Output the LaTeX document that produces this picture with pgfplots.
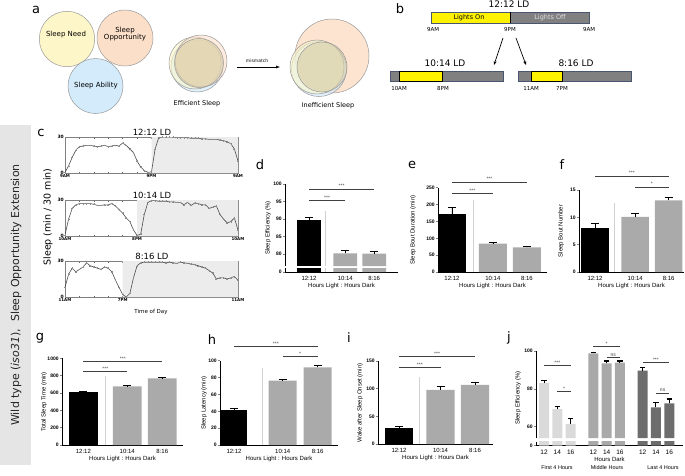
\documentclass[border=0pt]{standalone}
\usepackage{pgfplots}
\pgfplotsset{compat=1.18}
\usepackage{fontspec}
\setmainfont{DejaVu Sans}
\newfontfamily\arial{Liberation Sans}
\usetikzlibrary{arrows.meta}

\definecolor{barg}{HTML}{AAAAAA}
\definecolor{jlight}{HTML}{DADADA}
\definecolor{jmid}{HTML}{A9A9A9}
\definecolor{jdark}{HTML}{6D6D6D}
\definecolor{shade}{HTML}{ECECEC}
\definecolor{cneed}{HTML}{FDF6C8}
\definecolor{copp}{HTML}{FBDFC9}
\definecolor{cabil}{HTML}{D3EBFB}
\definecolor{cmix}{HTML}{D8CDA6}
\definecolor{lborder}{HTML}{4A5670}

\newcommand\af{\arial\fontsize{6}{7}\selectfont}

\pgfplotsset{
  gp/.style={
    scale only axis, anchor=south west,
    axis x line*=bottom, axis y line*=left,
    axis line style={line width=0.7pt},
    tick align=outside, major tick length=2.2pt,
    ytick style={line width=0.6pt},
    xtick style={draw=none},
    yticklabel style={font=\arial\fontsize{5}{6}\selectfont\bfseries, inner sep=1pt},
    xticklabel style={font=\af, inner sep=1.5pt},
    xlabel style={font=\af, inner sep=1pt},
    /pgf/number format/assume math mode=true,
    /pgf/number format/1000 sep={},
    clip mode=individual, scaled y ticks=false,
    xtick={0,1.2,2.2}, xticklabels={12:12,10:14,8:16},
    xlabel={Hours Light : Hours Dark},
  },
  bar/.style={ybar, bar width=0.82, bar shift=0pt, draw=none, fill=#1},
  eb/.style={error bars/.cd, y dir=plus, y explicit,
    error bar style={line width=0.6pt, black},
    error mark options={rotate=90, line width=0.6pt, black, mark size=4pt}},
  ebj/.style={error bars/.cd, y dir=plus, y explicit,
    error bar style={line width=1pt, black},
    error mark options={rotate=90, line width=1.2pt, black, mark size=2.6pt}},
  cax/.style={
    scale only axis, anchor=south west, width=173pt, height=36pt,
    xmin=0, xmax=24, ymin=0, ymax=30,
    axis line style={draw=black!50, line width=0.5pt},
    ytick={0,30}, tick align=inside,
    major tick length=1.5pt, minor tick length=1.5pt,
    tick style={black!60, line width=0.4pt},
    minor xtick={2,4,6,8,10,14,16,18,20,22},
    yticklabel style={font=\fontsize{4.5}{5}\selectfont\bfseries, inner sep=1pt},
    xticklabel style={font=\fontsize{4}{5}\selectfont\bfseries, inner sep=1.5pt},
    /pgf/number format/assume math mode=true,
  },
  curve/.style={black!70, line width=0.6pt, mark=+, mark size=0.9pt,
    mark options={black!45, line width=0.3pt}},
}
\tikzset{
  sig/.style={black!75, line width=0.6pt},
  sigt/.style={font=\arial\fontsize{5}{5}\selectfont, inner sep=0.8pt, text=black!75},
  sepc/.style={black!18, line width=0.8pt},
  yl/.style={font=\af, rotate=90},
  pl/.style={font=\fontsize{13}{13}\selectfont},
}

\begin{document}
\begin{tikzpicture}[x=1pt,y=1pt]
\useasboundingbox (0,0) rectangle (685,-475);

% left strip
\fill[black!10] (0,-125) rectangle (31,-465);
\node[rotate=90, font=\fontsize{11}{11}\selectfont, text=black!85] at (16,-295)
  {Wild type (\textit{iso31}),\ \ Sleep Opportunity Extension};

% panel letters
\node[pl] at (36,-10) {a};
\node[pl] at (400,-9) {b};
\node[pl] at (41,-133) {c};
\node[pl] at (260,-165) {d};
\node[pl] at (412,-165) {e};
\node[pl] at (562,-165) {f};
\node[pl] at (40,-338) {g};
\node[pl] at (212,-340) {h};
\node[pl] at (349,-338) {i};
\node[pl] at (509,-338) {j};

% ---------- panel a
\begin{scope}[draw=black!40, line width=0.5pt]
\filldraw[fill=cneed] (67,-39) circle (27.7);
\filldraw[fill=copp] (125,-38) circle (28);
\filldraw[fill=cabil] (95.5,-86) circle (27.5);
\node[font=\fontsize{7}{8}\selectfont] at (66,-35) {Sleep Need};
\node[font=\fontsize{7}{8}\selectfont, align=center] at (125,-34) {Sleep\\[-1pt]Opportunity};
\node[font=\fontsize{7}{8}\selectfont] at (96,-86) {Sleep Ability};
% efficient
\filldraw[fill=cabil, fill opacity=0.7] (197,-66) circle (26);
\filldraw[fill=cneed, fill opacity=0.6] (195,-63) circle (26);
\filldraw[fill=copp, fill opacity=0.6] (201,-61) circle (26);
\filldraw[fill=cmix, fill opacity=0.6] (199,-63) circle (24.5);
\node[font=\fontsize{6.5}{7}\selectfont] at (197,-104) {Efficient Sleep};
\draw[-{Latex[length=4pt]}, black, line width=0.5pt] (237,-67) -- (280,-67);
\node[font=\fontsize{4.5}{5}\selectfont] at (257,-61) {mismatch};
% inefficient
\filldraw[fill=copp, fill opacity=0.85] (332,-56) circle (37);
\filldraw[fill=cabil, fill opacity=0.7] (319,-69) circle (27.5);
\filldraw[fill=cneed, fill opacity=0.6] (317,-67) circle (27);
\filldraw[fill=cmix, fill opacity=0.6] (322,-67) circle (25);
\node[font=\fontsize{6.5}{7}\selectfont] at (328,-106) {Inefficient Sleep};
\end{scope}

% ---------- panel b
\begin{scope}[line width=0.6pt]
\fill[black!50] (431,-12) rectangle (589,-23);
\fill[yellow] (431,-12) rectangle (510,-23);
\draw[lborder] (431,-12) rectangle (589,-23);
\draw[black] (510,-12) -- (510,-23);
\node[font=\fontsize{6.5}{7}\selectfont] at (469,-17.5) {Lights On};
\node[font=\fontsize{6.5}{7}\selectfont, text=black!12] at (550,-17.5) {Lights Off};
\node[font=\fontsize{9}{9}\selectfont] at (509,-4) {12:12 LD};
\node[font=\fontsize{5.5}{6}\selectfont] at (433,-29) {9AM};
\node[font=\fontsize{5.5}{6}\selectfont] at (510,-29) {9PM};
\node[font=\fontsize{5.5}{6}\selectfont] at (589,-29) {9AM};
\draw[-{Stealth[length=4pt]}, line width=0.7pt] (503,-38) -- (494,-65);
\draw[-{Stealth[length=4pt]}, line width=0.7pt] (516,-38) -- (526,-65);
\node[font=\fontsize{9}{9}\selectfont] at (445,-63) {10:14 LD};
\node[font=\fontsize{9}{9}\selectfont] at (576,-63) {8:16 LD};
\fill[black!50] (390,-71) rectangle (503,-81);
\fill[yellow] (399,-71) rectangle (442,-81);
\draw[lborder] (390,-71) rectangle (503,-81);
\draw[black] (399,-71) rectangle (442,-81);
\node[font=\fontsize{5.5}{6}\selectfont] at (399,-88) {10AM};
\node[font=\fontsize{5.5}{6}\selectfont] at (443,-88) {8PM};
\fill[black!50] (518,-71) rectangle (631,-81);
\fill[yellow] (531,-71) rectangle (562,-81);
\draw[lborder] (518,-71) rectangle (631,-81);
\draw[black] (531,-71) rectangle (562,-81);
\node[font=\fontsize{5.5}{6}\selectfont] at (531,-88) {11AM};
\node[font=\fontsize{5.5}{6}\selectfont] at (562,-88) {7PM};
\end{scope}

% ---------- panel c
\node[font=\fontsize{8.5}{9}\selectfont] at (152,-132) {12:12 LD};
\node[font=\fontsize{8.5}{9}\selectfont] at (152,-195) {10:14 LD};
\node[font=\fontsize{8.5}{9}\selectfont] at (152,-256) {8:16 LD};
\node[rotate=90, font=\fontsize{9.5}{10}\selectfont] at (48,-217) {Sleep (min / 30 min)};
\node[font=\fontsize{5.5}{6}\selectfont] at (151,-312) {Time of Day};

\begin{axis}[cax, at={(65pt,-173pt)}, xtick={0,12,24}, xticklabels={9AM,9PM,9AM}]
\addplot[fill=shade, draw=none] coordinates {(12,0) (12,30) (24,30) (24,0)} \closedcycle;
\addplot[curve] coordinates {(0,0.5)(0.5,6)(1,13)(1.5,19)(2,22)(2.5,22.5)(3,23)(3.5,23)(4,22.5)(4.5,22)(5,22.5)(5.5,23)(6,22)(6.5,22.5)(7,23)(7.5,22.5)(8,25)(8.5,23)(9,20)(9.5,17)(10,10)(10.5,5)(11,2)(11.5,0.5)(12,1)(12.5,20)(13,29.5)(13.5,30)(14,30)(14.5,30)(15,30)(15.5,29.5)(16,29.5)(16.5,29.5)(17,29.5)(17.5,29)(18,29)(18.5,29)(19,28.5)(19.5,28.5)(20,28)(20.5,28)(21,28)(21.5,27.5)(22,27)(22.5,26)(23,24.5)(23.5,20)(24,10)};
\end{axis}

\begin{axis}[cax, at={(65pt,-236pt)}, xtick={0,10,24}, xticklabels={10AM,8PM,10AM}]
\addplot[fill=shade, draw=none] coordinates {(10,0) (10,30) (24,30) (24,0)} \closedcycle;
\addplot[curve] coordinates {(0,1)(0.5,14)(1,23)(1.5,26)(2,27)(2.5,27)(3,27)(3.5,27)(4,26.5)(4.5,25.5)(5,25.5)(5.5,26)(6,26)(6.5,27)(7,25)(7.5,22)(8,19)(8.5,15)(9,12)(9.5,5)(10,0.5)(10.5,1.5)(11,18)(11.5,28)(12,29.5)(12.5,29.5)(13,29)(13.5,29)(14,29)(14.5,28.5)(15,28.5)(15.5,28)(16,28)(16.5,26)(17,28)(17.5,25.5)(18,27.5)(18.5,27)(19,26)(19.5,26)(20,23)(20.5,24)(21,25)(21.5,18)(22,14)(22.5,11)(23,12)(23.5,15)(24,5)};
\end{axis}

\begin{axis}[cax, at={(65pt,-297pt)}, xtick={0,8,24}, xticklabels={11AM,7PM,11AM}]
\addplot[fill=shade, draw=none] coordinates {(8,0) (8,30) (24,30) (24,0)} \closedcycle;
\addplot[curve] coordinates {(0,8)(0.5,19)(1,24)(1.5,21)(2,23)(2.5,25)(3,28.5)(3.5,26)(4,25)(4.5,24)(5,23)(5.5,25)(6,24)(6.5,21)(7,14)(7.5,8)(8,2)(8.5,0)(9,3)(9.5,16)(10,26)(10.5,28.5)(11,29)(11.5,29)(12,29)(12.5,29)(13,29)(13.5,29)(14,28.5)(14.5,29)(15,28.5)(15.5,28)(16,29)(16.5,28.5)(17,28)(17.5,27.5)(18,27)(18.5,26)(19,25)(19.5,24)(20,22)(20.5,20)(21,15)(21.5,16)(22,16)(22.5,15)(23,16)(23.5,17)(24,14)};
\end{axis}

% ---------- panel d (broken axis)
\node[yl] at (268,-228) {Sleep Efficiency (\%)};
\begin{axis}[gp, at={(285pt,-266pt)}, width=113pt, height=82pt, xmin=-0.83, xmax=3.07,
  ymin=76.57, ymax=100, ytick={80,85,90,95,100}, axis x line=none, xlabel={}, xtick=\empty]
\addplot[bar=black, eb] coordinates {(0,89.8) +- (0,0.6)};
\addplot[bar=barg, eb] coordinates {(1.25,80.2) +- (0,0.8) (2.25,80.1) +- (0,0.7)};
\draw[sepc] (axis cs:0.55,76.57) -- (axis cs:0.55,92.3);
\draw[sig] (axis cs:0,98.6) -- (axis cs:2.25,98.6) node[midway, above, sigt] {***};
\draw[sig] (axis cs:0,95.4) -- (axis cs:1.25,95.4) node[midway, above, sigt] {***};
\end{axis}
\begin{axis}[gp, at={(285pt,-272pt)}, width=113pt, height=4pt, xmin=-0.83, xmax=3.07,
  ymin=0, ymax=1.14, ytick={0}, xtick={0,1.25,2.25}]
\addplot[bar=black] coordinates {(0,89.8)};
\addplot[bar=barg] coordinates {(1.25,80.2) (2.25,80.1)};
\draw[sepc] (axis cs:0.55,0) -- (axis cs:0.55,1.14);
\end{axis}

% ---------- panel e
\node[yl] at (413,-230) {Sleep Bout Duration (min)};
\begin{axis}[gp, at={(438pt,-272pt)}, width=109pt, height=84.3pt, xmin=-0.41, xmax=2.79,
  ymin=0, ymax=250, ytick={0,50,...,250}]
\addplot[bar=black, eb] coordinates {(0,172) +- (0,20)};
\addplot[bar=barg, eb] coordinates {(1.2,84) +- (0,5) (2.2,73) +- (0,4)};
\draw[sepc] (axis cs:0.62,0) -- (axis cs:0.62,213.5);
\draw[sig] (axis cs:0,267) -- (axis cs:2.2,267) node[midway, above, sigt] {***};
\draw[sig] (axis cs:0,234) -- (axis cs:1.2,234) node[midway, above, sigt] {***};
\end{axis}

% ---------- panel f
\node[yl] at (561,-231) {Sleep Bout Number};
\begin{axis}[gp, at={(579pt,-272pt)}, width=105pt, height=82pt, xmin=-0.48, xmax=2.66,
  ymin=0, ymax=15, ytick={0,5,10,15}]
\addplot[bar=black, eb] coordinates {(0,8.1) +- (0,0.9)};
\addplot[bar=barg, eb] coordinates {(1.2,10.1) +- (0,0.7) (2.2,13.1) +- (0,0.6)};
\draw[sepc] (axis cs:0.57,0) -- (axis cs:0.57,12.6);
\draw[sig] (axis cs:0,17.56) -- (axis cs:2.2,17.56) node[midway, above, sigt] {***};
\draw[sig] (axis cs:1.2,15.55) -- (axis cs:2.2,15.55) node[midway, above, sigt] {*};
\end{axis}

% ---------- panel g
\node[yl] at (44,-402) {Total Sleep Time (min)};
\begin{axis}[gp, at={(62pt,-445pt)}, width=121pt, height=86.7pt, xmin=-0.61, xmax=2.84,
  ymin=0, ymax=1000, ytick={0,200,...,1000}, xtick={0,1.25,2.25}]
\addplot[bar=black, eb] coordinates {(0,615) +- (0,10)};
\addplot[bar=barg, eb] coordinates {(1.25,675) +- (0,8) (2.25,770) +- (0,7)};
\draw[sepc] (axis cs:0.64,0) -- (axis cs:0.64,796);
\draw[sig] (axis cs:0,961) -- (axis cs:2.25,961) node[midway, above, sigt] {***};
\draw[sig] (axis cs:0,845) -- (axis cs:1.25,845) node[midway, above, sigt] {***};
\end{axis}

% ---------- panel h
\node[yl] at (204,-403) {Sleep Latency (min)};
\begin{axis}[gp, at={(220pt,-445pt)}, width=118pt, height=84.3pt, xmin=-0.4, xmax=2.97,
  ymin=0, ymax=100, ytick={0,20,...,100}, xtick={0,1.39,2.39}]
\addplot[bar=black, bar width=0.75, eb] coordinates {(0,42) +- (0,1.7)};
\addplot[bar=barg, bar width=0.8, eb] coordinates {(1.39,76.5) +- (0,1.5) (2.39,92) +- (0,2)};
\draw[sepc] (axis cs:0.82,0) -- (axis cs:0.82,91);
\draw[sig] (axis cs:0,116.6) -- (axis cs:2.39,116.6) node[midway, above, sigt] {***};
\draw[sig] (axis cs:1.39,104.7) -- (axis cs:2.39,104.7) node[midway, above, sigt] {*};
\end{axis}

% ---------- panel i
\node[yl] at (360,-403) {Wake after Sleep Onset (min)};
\begin{axis}[gp, at={(378pt,-444pt)}, width=115pt, height=83pt, xmin=-0.61, xmax=2.72,
  ymin=0, ymax=150, ytick={0,50,100,150}]
\addplot[bar=black, eb] coordinates {(0,29.5) +- (0,3)};
\addplot[bar=barg, eb] coordinates {(1.2,98) +- (0,6.5) (2.2,107) +- (0,5)};
\draw[sepc] (axis cs:0.59,0) -- (axis cs:0.59,121.6);
\draw[sig] (axis cs:0,157.8) -- (axis cs:2.2,157.8) node[midway, above, sigt] {***};
\draw[sig] (axis cs:0,137.9) -- (axis cs:1.2,137.9) node[midway, above, sigt] {***};
\end{axis}

% ---------- panel j (broken axis)
\node[yl] at (518,-398) {Sleep Efficiency (\%)};
\begin{axis}[gp, at={(536pt,-438pt)}, width=147pt, height=87pt, xmin=-0.6, xmax=10.43,
  ymin=54, ymax=100, ytick={60,80,100}, axis x line=none, xlabel={}, xtick=\empty]
\addplot[bar=jlight, bar width=0.75, ebj] coordinates {(0,83.2) +- (0,1) (1,69.3) +- (0,1.4) (2,61.4) +- (0,3)};
\addplot[bar=jmid, bar width=0.75, ebj] coordinates {(3.7,98.8) +- (0,0.5) (4.7,93.5) +- (0,1.2) (5.7,93.8) +- (0,0.9)};
\addplot[bar=jdark, bar width=0.75, ebj] coordinates {(7.4,89.6) +- (0,1.8) (8.4,70.2) +- (0,2.6) (9.4,72.3) +- (0,2.3)};
\draw[sig] (axis cs:0,92.2) -- (axis cs:2,92.2) node[midway, above, sigt] {***};
\draw[sig] (axis cs:1,78.5) -- (axis cs:2,78.5) node[midway, above, sigt] {*};
\draw[sig] (axis cs:3.7,102.3) -- (axis cs:5.7,102.3) node[midway, above, sigt] {*};
\draw[sig] (axis cs:4.7,96.7) -- (axis cs:5.7,96.7) node[midway, above, sigt] {ns};
\draw[sig] (axis cs:7.4,93.8) -- (axis cs:9.4,93.8) node[midway, above, sigt] {***};
\draw[sig] (axis cs:8.4,77.9) -- (axis cs:9.4,77.9) node[midway, above, sigt] {ns};
\end{axis}
\begin{axis}[gp, at={(536pt,-445.7pt)}, width=147pt, height=4.2pt, xmin=-0.6, xmax=10.43,
  ymin=0, ymax=2.2, ytick={0}, xtick={0,1,2,3.7,4.7,5.7,7.4,8.4,9.4},
  xticklabels={12,14,16,12,14,16,12,14,16}, xlabel={Hours Dark},
  xticklabel style={font=\arial\fontsize{6.5}{7}\selectfont}]
\addplot[bar=jlight, bar width=0.75] coordinates {(0,83.2) (1,69.3) (2,61.4)};
\addplot[bar=jmid, bar width=0.75] coordinates {(3.7,98.8) (4.7,93.5) (5.7,93.8)};
\addplot[bar=jdark, bar width=0.75] coordinates {(7.4,89.6) (8.4,70.2) (9.4,72.3)};
\end{axis}
\node[font=\arial\fontsize{5.5}{6}\selectfont] at (557,-468) {First 4 Hours};
\node[font=\arial\fontsize{5.5}{6}\selectfont] at (607,-468) {Middle Hours};
\node[font=\arial\fontsize{5.5}{6}\selectfont] at (663,-468) {Last 4 Hours};

\end{tikzpicture}
\end{document}
